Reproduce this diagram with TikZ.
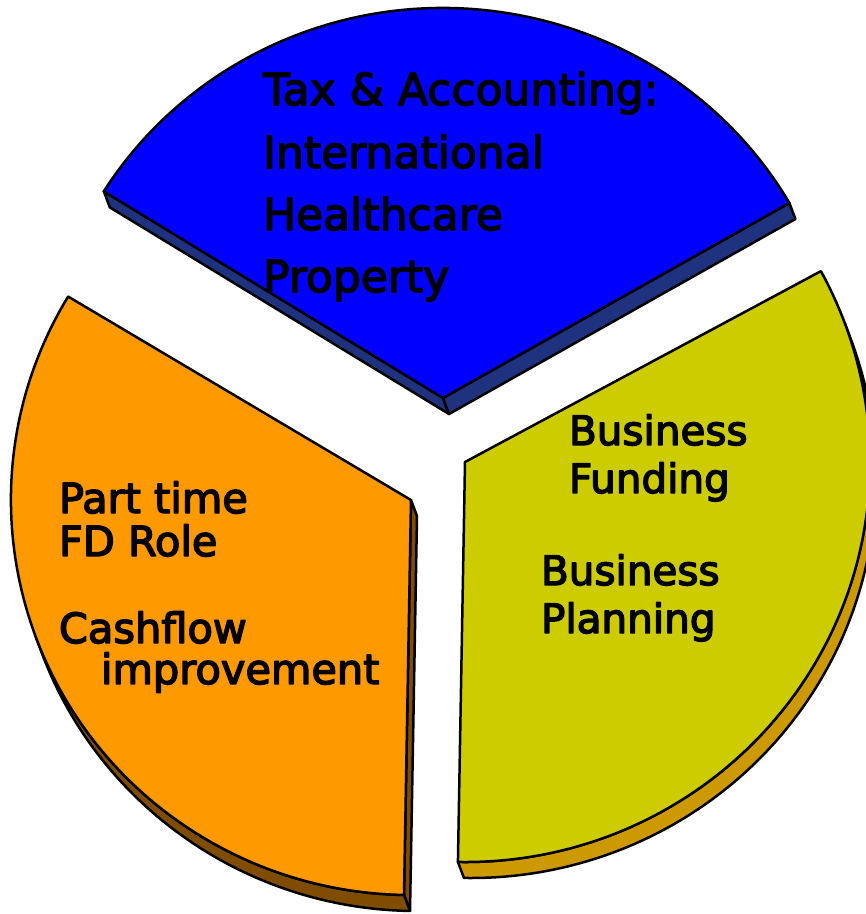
\documentclass[tikz,border=0pt]{standalone}
\usepackage{fontspec}
\newfontfamily\lblfont[FakeBold=3.5]{DejaVu Sans}
\usetikzlibrary{calc}
\definecolor{bluetop}{RGB}{0,0,255}
\definecolor{blueside}{RGB}{30,50,128}
\definecolor{orangetop}{RGB}{255,153,0}
\definecolor{orangeside}{RGB}{128,77,0}
\definecolor{yellowtop}{RGB}{204,204,0}
\definecolor{yellowside}{RGB}{204,153,0}
\begin{document}
\begin{tikzpicture}[x=1pt,y=1pt,line join=round,
  edge/.style={draw=black,line width=2.5pt},
  bluetxt/.style={font=\lblfont\fontsize{44}{52}\selectfont,inner sep=0pt,outer sep=0pt,anchor=base west,text=black},
  ortxt/.style={font=\lblfont\fontsize{41.5}{50}\selectfont,inner sep=0pt,outer sep=0pt,anchor=base west,text=black},
  yetxt/.style={font=\lblfont\fontsize{40.5}{49}\selectfont,inner sep=0pt,outer sep=0pt,anchor=base west,text=black}]
\useasboundingbox (0,0) rectangle (866,-914);

% ---------- blue slice (top) ----------
\coordinate (B0) at (443,-398);
\coordinate (bL) at ($(B0)+(148:400pt and 390pt)$);
\coordinate (bR) at ($(B0)+(30:400pt and 390pt)$);
\filldraw[edge,fill=blueside] (bL) -- (B0) -- ++(6,-16) -- ($(bL)+(6,-16)$) -- cycle;
\filldraw[edge,fill=blueside] (B0) -- (bR) -- ++(6,-16) -- ($(B0)+(6,-16)$) -- cycle;
\filldraw[edge,fill=bluetop] (B0) -- (bR) arc[start angle=30,end angle=148,x radius=400pt,y radius=390pt] -- cycle;

% ---------- orange slice (left) ----------
\coordinate (O0) at (411,-500);
\coordinate (oT) at ($(O0)+(149:400pt and 395pt)$);
\coordinate (oB) at ($(O0)+(269:400pt and 395pt)$);
\coordinate (oS) at ($(O0)+(200:400pt and 395pt)$);
\filldraw[edge,fill=orangeside] (O0) -- (oB) -- ++(6,-16) -- ($(O0)+(6,-16)$) -- cycle;
\filldraw[edge,fill=orangeside] (oS) arc[start angle=200,end angle=269,x radius=400pt,y radius=395pt] -- ++(6,-16) arc[start angle=269,end angle=200,x radius=400pt,y radius=395pt] -- cycle;
\filldraw[edge,fill=orangetop] (O0) -- (oT) arc[start angle=149,end angle=269,x radius=400pt,y radius=395pt] -- cycle;

% ---------- yellow slice (right) ----------
\coordinate (Y0) at (465,-462);
\coordinate (yT) at ($(Y0)+(28.5:405pt and 400pt)$);
\coordinate (yB) at ($(Y0)+(-91:405pt and 400pt)$);
\filldraw[edge,fill=yellowside] (yB) arc[start angle=-91,end angle=20.3,x radius=405pt,y radius=400pt] -- ++(6,-16) arc[start angle=20.3,end angle=-91,x radius=405pt,y radius=400pt] -- cycle;
\filldraw[edge,fill=yellowtop] (Y0) -- (yB) arc[start angle=-91,end angle=28.5,x radius=405pt,y radius=400pt] -- cycle;

% ---------- labels ----------
\node[bluetxt] (t1) at (263,-105) {Tax \& Accounting:};
\node[bluetxt] (t2) at (263,-168) {International};
\node[bluetxt] (t3) at (263,-230) {Healthcare};
\node[bluetxt] (t4) at (263,-292) {Property};

\node[ortxt] (o1) at (59,-513) {Part time};
\node[ortxt] (o2) at (59,-556) {FD Role};
\node[ortxt] (o3) at (59,-643) {Cashflow};
\node[ortxt] (o4) at (101,-684) {improvement};

\node[yetxt] (y1) at (569,-445) {Business};
\node[yetxt] (y2) at (569,-493) {Funding};
\node[yetxt] (y3) at (541,-585) {Business};
\node[yetxt] (y4) at (541,-633) {Planning};
\end{tikzpicture}
\end{document}
